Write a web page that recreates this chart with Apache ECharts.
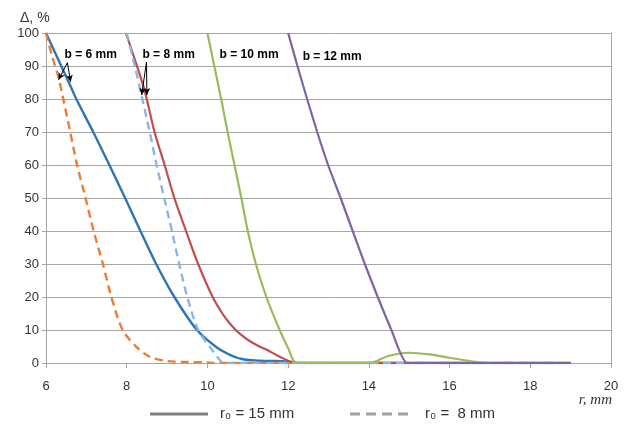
<!DOCTYPE html>
<html>
<head>
<meta charset="utf-8">
<script src="https://cdn.jsdelivr.net/npm/echarts@6/dist/echarts.min.js"></script>
<style>
  html, body { margin: 0; padding: 0; background: #fff; }
  #chart { width: 624px; height: 425px; }
</style>
</head>
<body>
<div id="chart"></div>
<script>
// points are [r, mm ; Δ, %]
const b6r15 = [[6,100],[6.64,83],[6.75,80],[7.17,70],[7.57,60],[7.96,50],[8.34,40],[8.73,30],[9.18,20],[9.74,10],[10.2,5],[10.5,2.8],[10.85,1.2],[11.3,0.7],[12,0.5],[12.25,0],[19,0]];
const b6r8 = [[6,100],[6.15,93],[6.3,87],[6.41,81],[6.59,70.6],[6.77,60],[6.98,50],[7.18,40],[7.41,30],[7.62,20],[7.9,10],[8.24,4.9],[8.57,1.9],[9.0,0.6],[9.5,0.3],[10,0.2],[10.1,0],[19,0]];
const b8r15 = [[7.98,100],[8.2,92],[8.44,82.7],[8.69,70],[8.94,60],[9.18,50],[9.47,40],[9.77,30],[10.13,20],[10.37,15],[10.52,12.5],[10.7,10],[10.84,8.5],[10.98,7.2],[11.14,6],[11.29,5],[11.55,3.5],[11.79,1.9],[12.2,0],[19,0]];
const b8r8 = [[8,100],[8.2,90],[8.37,81],[8.57,70],[8.74,60],[8.93,50],[9.12,40],[9.3,30],[9.5,20],[9.77,10],[10.06,4.9],[10.3,1],[10.4,0],[19,0]];
const b10r15 = [[10,100],[10.17,90],[10.34,80],[10.5,70],[10.67,60],[10.84,50],[11.0,40],[11.2,30],[11.46,20],[11.79,10],[12.0,4.5],[12.22,0],[14,0],[14.5,2.2],[15,3.1],[15.5,2.6],[16,1.6],[16.5,0.6],[16.9,0],[19,0]];
const b12r15 = [[12,100],[12.23,90],[12.47,80],[12.72,70],[12.99,60],[13.3,50],[13.6,40],[13.9,30],[14.22,20],[14.56,10],[14.95,0],[19,0]];
const b12r8 = [[15,0],[19,0]];

const bLabels = ['b = 6 mm', 'b = 8 mm', 'b = 10 mm', 'b = 12 mm'];
const bLabelPos = [[6.46,93.3],[8.39,93.3],[10.3,93.3],[12.36,92.7]];

const chart = echarts.init(document.getElementById('chart'));
const gray = '#a6a6a6';

function line(name, data, color, dashed, width, smooth) {
  return {
    name: name, type: 'line', data: data, showSymbol: false,
    smooth: smooth === undefined ? 0.3 : smooth,
    silent: true,
    lineStyle: { color: color, width: width || 2.2, type: dashed ? [8, 5] : 'solid' }
  };
}

const series = [
  line('b6 r15', b6r15, '#2e75b6', false, 2.4),
  line('b6 r8', b6r8, '#ed7d31', true, 2.4),
  line('b8 r15', b8r15, '#c0504d', false),
  line('b8 r8', b8r8, '#8eb4e3', true, 2.4),
  line('b10 r15', b10r15, '#9bbb59', false),
  line('b12 r15', b12r15, '#8064a2', false, 2.2, 0.15),
  line('b12 r8', b12r8, '#8064a2', true)
];

// little arrows from the labels to the curves
series[0].markLine = {
  silent: true, symbol: ['none', 'arrow'], symbolSize: [5, 7],
  lineStyle: { color: '#000', width: 1, type: 'solid' },
  label: { show: false },
  data: [
    [{ coord: [6.53, 91] }, { coord: [6.31, 85.8] }],
    [{ coord: [6.53, 91] }, { coord: [6.61, 85.2] }],
    [{ coord: [8.49, 91.2] }, { coord: [8.37, 81.2] }],
    [{ coord: [8.49, 91.2] }, { coord: [8.5, 81.2] }]
  ]
};

chart.setOption({
  animation: false,
  grid: { left: 46, right: 13, top: 33, bottom: 62 },
  xAxis: {
    type: 'value', min: 6, max: 20, interval: 2,
    axisLine: { lineStyle: { color: gray } },
    axisTick: { show: true, length: 5, lineStyle: { color: gray } },
    axisLabel: { color: '#333', fontSize: 13, margin: 17, fontFamily: 'Liberation Sans' },
    splitLine: { show: false }
  },
  yAxis: [{
    type: 'value', min: 0, max: 100, interval: 10,
    axisLine: { show: true, lineStyle: { color: gray } },
    axisTick: { show: true, length: 4, lineStyle: { color: gray } },
    axisLabel: { color: '#333', fontSize: 13, margin: 7, fontFamily: 'Liberation Sans' },
    splitLine: { lineStyle: { color: gray, width: 1 } }
  }, {
    type: 'value', min: 0, max: 100, position: 'right',
    axisLine: { show: true, lineStyle: { color: gray } },
    axisTick: { show: false }, axisLabel: { show: false }, splitLine: { show: false }
  }],
  series: series
});

const texts = bLabels.map(function (t, i) {
  const p = chart.convertToPixel({ gridIndex: 0 }, bLabelPos[i]);
  return {
    type: 'text', x: p[0], y: p[1],
    style: { text: t, fill: '#000', font: 'bold 12px "Liberation Sans"', verticalAlign: 'middle' }
  };
});

chart.setOption({
  graphic: texts.concat([
    { type: 'text', x: 20, y: 18, style: { text: 'Δ, %', fill: '#333', font: '14px "Liberation Sans"', verticalAlign: 'middle' } },
    { type: 'text', x: 612, y: 400, style: { text: 'r, mm', fill: '#333', font: 'italic 15px "Liberation Serif"', align: 'right', verticalAlign: 'middle' } },
    { type: 'line', shape: { x1: 150, y1: 414, x2: 208, y2: 414 }, style: { stroke: '#808080', lineWidth: 3 } },
    { type: 'text', x: 220, y: 414, style: { text: 'r₀ = 15 mm', fill: '#333', font: '15px "Liberation Sans", "DejaVu Sans"', verticalAlign: 'middle' } },
    { type: 'line', shape: { x1: 350, y1: 414, x2: 410, y2: 414 }, style: { stroke: '#a0a0a0', lineWidth: 3, lineDash: [10, 6] } },
    { type: 'text', x: 425, y: 414, style: { text: 'r₀ =  8 mm', fill: '#333', font: '15px "Liberation Sans", "DejaVu Sans"', verticalAlign: 'middle' } }
  ])
});
</script>
</body>
</html>
